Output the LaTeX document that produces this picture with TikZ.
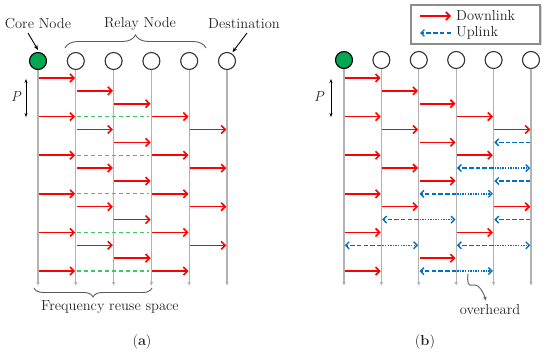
\documentclass[tikz,border=0pt]{standalone}
\usetikzlibrary{arrows.meta,decorations.pathreplacing,shadows}
\definecolor{myred}{RGB}{255,0,0}
\definecolor{myblue}{RGB}{0,112,192}
\definecolor{mygreen}{RGB}{60,200,100}
\definecolor{nodegreen}{RGB}{0,166,81}
\definecolor{vgray}{RGB}{178,178,178}
\definecolor{bracegray}{RGB}{90,90,90}
\begin{document}
\begin{tikzpicture}[x=1pt,y=-1pt,
  txt/.style={font=\fontsize{14.5}{16}\selectfont, inner sep=1pt, text=black!85},
  relay/.style={circle,draw=black!80,line width=1.1pt,minimum size=17pt,inner sep=0pt,fill=white},
  core/.style={relay,fill=nodegreen,draw=black},
  vline/.style={vgray,line width=1.1pt,-{Latex[length=4pt,width=3.5pt]}},
  down/.style={myred,line width=1.6pt,-{Straight Barb[length=4pt,width=8pt]}},
  uplnk/.style={myblue,line width=1.4pt,dash pattern=on 4.5pt off 2.2pt,-{Straight Barb[length=3.5pt,width=7pt]}},
  overh/.style={myblue,line width=1.4pt,dash pattern=on 1.4pt off 1.2pt,-{Straight Barb[length=3.5pt,width=7pt]}},
  reuse/.style={mygreen,line width=1.2pt,dash pattern=on 4pt off 3pt},
  ptr/.style={black,line width=0.9pt,-{Stealth[length=5pt,width=4pt]}},
  pbar/.style={black,line width=0.8pt,{Stealth[length=4pt,width=3pt]}-{Stealth[length=4pt,width=3pt]}},
  brc/.style={bracegray,line width=0.9pt,decorate},
  ]
\useasboundingbox (0,0) rectangle (550,353);

% ---------- panel (a) ----------
\foreach \i in {0,...,5}{
  \pgfmathsetmacro{\xx}{38+37.8*\i}
  \ifnum\i=0
    \node[core] (a\i) at (\xx,61) {};
  \else
    \node[relay] (a\i) at (\xx,61) {};
  \fi
  \coordinate (ae\i) at (\xx,286);
  \draw[vline] (a\i.south) -- (ae\i);
}
\foreach \c/\r in {0/0,1/1,2/2,0/3,3/3,1/4,4/4,2/5,0/6,3/6,1/7,4/7,2/8,0/9,3/9,1/10,4/10,2/11,0/12,3/12,1/13,4/13,2/14,0/15,3/15}{
  \pgfmathsetmacro{\xs}{38+37.8*\c}
  \pgfmathsetmacro{\yy}{78+12.87*\r}
  \draw[down] (\xs+0.7,\yy) -- (\xs+37.1,\yy);
}
\foreach \r in {3,6,9,12,15}{
  \pgfmathsetmacro{\yy}{78+12.87*\r}
  \draw[reuse] (77,\yy) -- (149,\yy);
}
\draw[pbar] (26,79) -- (26,117);
\node[txt,font=\fontsize{14.5}{16}\selectfont\itshape] (pa) at (16,97) {P};

\node[txt] (corelbl) at (38,24) {Core Node};
\node[txt] (relaylbl) at (140,24) {Relay Node};
\node[txt,anchor=west] (destlbl) at (207,24) {Destination};
\coordinate (cst) at (28,33);
\coordinate (dst) at (247,33);
\draw[ptr] (cst) -- ([yshift=2pt]a0.north);
\draw[ptr] (dst) -- ([shift={(1pt,1pt)}]a5.60);
\draw[brc,decoration={brace,amplitude=13pt}] (65,48) -- (206,48);
\draw[brc,decoration={brace,amplitude=9pt}] (152,288) -- (34,288);
\node[txt] (freq) at (110,307) {Frequency reuse space};
\node[txt] (capa) at (142,342) {(\textbf{a})};

% ---------- panel (b) ----------
\foreach \i in {0,...,5}{
  \pgfmathsetmacro{\xx}{344+37.4*\i}
  \ifnum\i=0
    \node[core] (b\i) at (\xx,60) {};
  \else
    \node[relay] (b\i) at (\xx,60) {};
  \fi
  \coordinate (be\i) at (\xx,286);
  \draw[vline] (b\i.south) -- (be\i);
}
\foreach \c/\r in {0/0,1/1,2/2,0/3,3/3,1/4,4/4,2/5,0/6,3/6,1/7,2/8,0/9,1/10,4/10,0/12,3/12,2/14,0/15}{
  \pgfmathsetmacro{\xs}{344+37.4*\c}
  \pgfmathsetmacro{\yy}{78+12.87*\r}
  \draw[down] (\xs+0.7,\yy) -- (\xs+36.7,\yy);
}
% uplink only (col5 -> col4)
\foreach \r in {5,8,11}{
  \pgfmathsetmacro{\yy}{78+12.87*\r}
  \draw[uplnk] (344+37.4*5-0.7,\yy) -- (344+37.4*4+0.7,\yy);
}
% uplink with overhearing
\foreach \d/\r in {3/7,2/9,1/11,0/13,3/13,2/15}{
  \pgfmathsetmacro{\xm}{344+37.4*(\d+1)}
  \pgfmathsetmacro{\xl}{344+37.4*\d}
  \pgfmathsetmacro{\xr}{344+37.4*(\d+2)}
  \pgfmathsetmacro{\yy}{78+12.87*\r}
  \draw[uplnk] (\xm,\yy) -- (\xl+0.7,\yy);
  \draw[overh] (\xm+1,\yy) -- (\xr-0.7,\yy);
}
\draw[pbar] (331,79) -- (331,117);
\node[txt,font=\fontsize{14.5}{16}\selectfont\itshape] (pb) at (319,97) {P};

% overheard pointer
\coordinate (ovs) at (468,274);
\coordinate (ove) at (486,301);
\draw[gray!85!black,line width=1pt,-{Latex[length=4pt,width=4pt]}]
  (ovs) .. controls (466,292) and (474,282) .. (478,286)
        .. controls (482,290) and (484,294) .. (ove);
\node[txt] (ovlbl) at (490,310) {overheard};
\node[txt] (capb) at (425,342) {(\textbf{b})};

% legend
\node[draw=black!45,line width=1.1pt,fill=white,
      drop shadow={shadow xshift=1.5pt,shadow yshift=-1.5pt,fill=black!30},
      minimum width=129pt,minimum height=39pt,inner sep=0pt] (legend) at (475.5,24.5) {};
\coordinate (l1a) at (420,16);
\coordinate (l1b) at (451,16);
\coordinate (l2a) at (451,33);
\coordinate (l2b) at (420,33);
\draw[down] (l1a) -- (l1b);
\draw[uplnk] (l2a) -- (l2b);
\node[txt,anchor=west] (dltxt) at (455,16) {Downlink};
\node[txt,anchor=west] (ultxt) at (455,33) {Uplink};
\end{tikzpicture}
\end{document}
